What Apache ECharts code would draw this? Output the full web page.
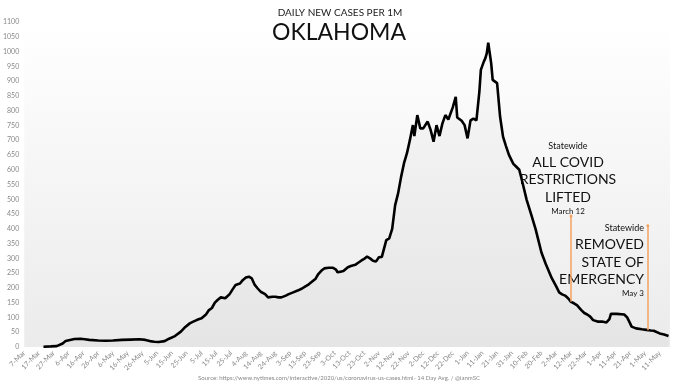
<!DOCTYPE html>
<html>
<head>
<meta charset="utf-8">
<script src="https://cdn.jsdelivr.net/npm/echarts@6/dist/echarts.min.js"></script>
<style>html,body{margin:0;padding:0;background:#fff}#c{width:679px;height:383px}</style>
</head>
<body>
<div id="c"></div>
<script>
// days since 7-Mar-2020
const days = [13,18,22,26,28,31,34,38,41,44,50,55,60,66,72,78,82,85,88,91,95,98,102,106,109,112,114,117,120,123,125,127,129,131,133,136,139,141,143,146,148,150,152,154,156,158,160,163,165,168,170,172,174,177,179,182,185,188,190,192,194,197,199,201,203,206,209,211,212,214,216,219,221,224,226,228,230,232,234,236,238,240,242,243,245,247,249,251,253,255,257,259,261,263,264,266,268,270,271,273,275,277,279,281,283,285,287,290,292,293,296,298,300,302,304,306,308,309,311,312,313,314,316,317,320,322,324,326,328,331,333,335,337,340,343,346,348,350,353,357,360,362,364,366,368,370,372,374,377,379,381,383,385,388,391,394,396,397,401,406,408,410,411,414,418,421,424,426,430,433,436];
const cases = [1,2,3,12,20,24,27,28,26,24,22,21,22,24,25,26,24,20,18,17,20,28,37,52,68,80,85,92,97,110,125,132,150,160,168,165,179,195,210,215,227,235,238,232,210,198,187,179,168,170,170,168,168,174,179,185,191,198,204,210,218,230,247,258,266,268,268,262,253,255,257,270,274,278,285,292,298,306,300,292,289,304,305,308,362,368,400,480,520,575,622,656,701,751,714,785,740,740,745,763,735,695,751,714,757,785,770,811,847,777,766,751,706,767,773,767,864,938,966,977,994,1030,960,904,893,780,712,680,650,620,610,600,560,498,450,400,360,320,280,233,205,185,178,174,165,153,148,142,125,115,110,103,91,86,86,83,94,112,112,110,100,80,69,63,60,58,56,55,46,42,37];
const xTickLabels = ['7-Mar','17-Mar','27-Mar','6-Apr','16-Apr','26-Apr','6-May','16-May','26-May','5-Jun','15-Jun','25-Jun','5-Jul','15-Jul','25-Jul','4-Aug','14-Aug','24-Aug','3-Sep','13-Sep','23-Sep','3-Oct','13-Oct','23-Oct','2-Nov','12-Nov','22-Nov','2-Dec','12-Dec','22-Dec','1-Jan','11-Jan','21-Jan','31-Jan','10-Feb','20-Feb','2-Mar','12-Mar','22-Mar','1-Apr','11-Apr','21-Apr','1-May','11-May'];
const events = [
  {day: 370, from: 153, to: 443},
  {day: 422, from: 57, to: 410}
];

const FONT = 'Lato';
const chart = echarts.init(document.getElementById('c'));
const lineData = days.map((d, i) => [d, cases[i]]);
const orange = '#f3a262';
const txt = (x, y, s, size, align, color) => ({
  type: 'text', x: x, y: y,
  style: {text: s, fontSize: size, fontFamily: FONT, fill: color || '#111', textAlign: align || 'center', textVerticalAlign: 'middle'}
});
chart.setOption({
  backgroundColor: '#fff',
  animation: false,
  grid: {
    left: 21, right: 9, top: 22, bottom: 36, show: true, borderWidth: 0,
    backgroundColor: new echarts.graphic.LinearGradient(0, 0, 0, 1, [
      {offset: 0, color: '#ffffff'}, {offset: 1, color: '#ebebeb'}
    ])
  },
  xAxis: {
    type: 'value', min: 0, max: 437, interval: 10,
    axisLine: {show: false}, axisTick: {show: false}, splitLine: {show: false},
    axisLabel: {
      rotate: 45, fontSize: 7, color: '#888', fontFamily: FONT, margin: 5, showMaxLabel: false,
      formatter: v => (v % 10 === 0 && xTickLabels[v / 10]) ? xTickLabels[v / 10] : ''
    }
  },
  yAxis: {
    type: 'value', min: 0, max: 1100, interval: 50,
    axisLine: {show: false}, axisTick: {show: false}, splitLine: {show: false},
    axisLabel: {fontSize: 7, color: '#888', fontFamily: FONT, margin: 5, formatter: v => String(v)}
  },
  series: [{
    type: 'line', data: lineData, showSymbol: false, smooth: false,
    lineStyle: {color: '#000', width: 2.6},
    areaStyle: {color: 'rgba(0,0,0,0.035)'},
    markLine: {
      silent: true, symbol: ['none', 'circle'], symbolSize: 3,
      lineStyle: {color: orange, width: 1.5, type: 'solid'},
      label: {show: false},
      data: events.map(e => [{coord: [e.day, e.from]}, {coord: [e.day, e.to]}])
    }
  }],
  graphic: [
    txt(340, 13, 'DAILY NEW CASES PER 1M', 10, 'center', '#222'),
    txt(339, 33, 'OKLAHOMA', 23, 'center', '#111'),
    txt(339, 378, 'Source: https://www.nytimes.com/interactive/2020/us/coronavirus-us-cases.html- 14 Day Avg. / @ianmSC', 6, 'center', '#888'),
    txt(568, 146, 'Statewide', 9),
    txt(568, 162, 'ALL COVID', 14),
    txt(568, 179, 'RESTRICTIONS', 14),
    txt(568, 197, 'LIFTED', 14),
    txt(568, 211, 'March 12', 8),
    txt(644, 228, 'Statewide', 9, 'right'),
    txt(644, 244, 'REMOVED', 14, 'right'),
    txt(644, 262, 'STATE OF', 14, 'right'),
    txt(644, 279, 'EMERGENCY', 14, 'right'),
    txt(644, 293, 'May 3', 8, 'right')
  ]
});
</script>
</body>
</html>
